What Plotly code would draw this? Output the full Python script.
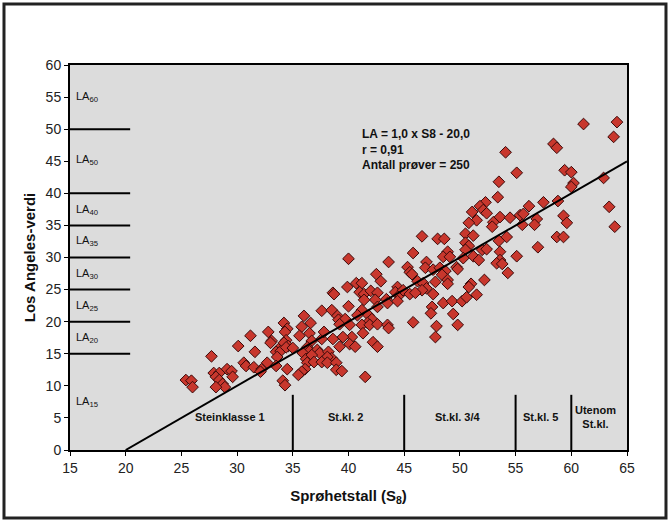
import plotly.graph_objects as go

# Sprøhetstall (S8) og Los Angeles-verdi, lest av figuren
s8 = [
    38.6, 36.0, 37.6, 38.5, 34.2, 34.5, 34.3, 36.6, 35.8, 32.8, 31.2, 33.1, 33.0, 34.4, 34.2, 34.6,
    35.6, 36.5, 36.7, 37.6, 38.6, 37.8, 30.1, 31.6, 33.7, 33.5, 33.9, 34.4, 35.0, 36.3, 36.5, 35.9,
    37.2, 37.4, 38.2, 38.5, 38.1, 33.6, 27.7, 30.6, 30.8, 31.5, 32.2, 32.1, 32.7, 33.5, 34.5, 36.2,
    36.3, 36.1, 35.8, 35.5, 36.7, 36.9, 37.6, 38.1, 38.9, 38.9, 27.9, 28.4, 28.1, 29.1, 29.5, 29.6,
    28.4, 28.7, 28.9, 28.1, 34.1, 34.3, 25.4, 25.9, 26.0, 39.4, 41.5,
    46.6, 40.0, 43.6, 45.8, 47.0, 45.3, 45.5, 45.7, 46.9, 42.5, 42.9, 46.2, 46.7, 47.0, 46.6, 47.5,
    47.4, 47.9, 47.8, 45.8, 40.7, 41.2, 39.9, 38.7, 41.0, 41.4, 42.0, 42.6, 44.4, 44.2, 44.6, 44.9,
    45.5, 46.0, 43.4, 43.5, 44.4, 42.4, 42.6, 41.4, 41.2, 40.0, 40.8, 41.8, 42.1, 41.7, 39.0, 39.1,
    39.7, 39.2, 40.1, 40.3, 39.5, 41.2, 41.9, 42.6, 43.5, 43.6, 41.3, 42.2, 42.6, 40.1, 40.6, 39.2,
    49.8, 49.4,
    54.1, 55.1, 53.5, 53.4, 52.3, 51.8, 52.1, 52.4, 51.1, 51.5, 50.8, 53.0, 52.9, 53.6, 54.5, 55.4,
    55.7, 55.6, 56.2, 57.5, 58.8, 56.9, 56.7, 58.7, 48.0, 48.6, 50.5, 51.2, 54.2, 53.5, 50.5, 50.8,
    50.5, 52.0, 52.4, 53.6, 57.0, 48.9, 48.5, 49.1, 50.3, 51.2, 51.7, 53.6, 53.3, 53.8, 55.1, 47.6,
    48.2, 48.7, 48.4, 49.7, 49.8, 47.8, 48.9, 48.9, 51.0, 50.8, 52.2, 54.3, 51.5, 47.6, 48.5, 49.3,
    50.2, 50.6,
    61.1, 64.1, 63.8, 58.4, 58.7, 59.4, 60.0, 60.2, 60.0, 62.9, 59.3, 59.6, 59.3, 63.4, 63.9,
]
la = [
    24.5, 20.9, 21.7, 21.8, 19.8, 18.9, 18.4, 19.8, 19.2, 18.4, 17.8, 17.0, 16.7, 17.1, 16.7, 16.2,
    17.8, 18.2, 17.0, 17.3, 17.3, 18.4, 16.2, 15.3, 15.7, 15.3, 15.4, 16.0, 15.9, 16.0, 15.4, 15.1,
    15.6, 15.1, 15.3, 14.3, 14.5, 14.5, 14.6, 13.6, 13.1, 12.9, 12.6, 12.2, 13.6, 13.1, 12.6, 14.2,
    13.6, 12.6, 12.2, 11.7, 14.8, 13.7, 13.7, 13.6, 13.6, 12.5, 12.0, 12.0, 11.4, 12.6, 12.3, 11.4,
    10.9, 10.3, 9.8, 9.8, 10.8, 10.1, 10.9, 10.8, 9.8, 12.3, 11.4,
    33.3, 29.8, 29.3, 30.7, 29.3, 28.5, 27.7, 27.4, 28.4, 27.4, 26.3, 26.3, 26.0, 25.2, 24.9, 22.3,
    21.3, 19.3, 17.6, 19.9, 26.0, 26.0, 25.4, 24.3, 24.6, 24.3, 24.8, 24.5, 25.4, 24.6, 24.2, 24.9,
    24.3, 24.5, 23.5, 22.9, 23.2, 23.4, 22.3, 23.4, 21.8, 22.4, 21.0, 21.0, 20.4, 19.8, 20.9, 20.3,
    20.4, 19.6, 19.5, 17.6, 17.6, 19.5, 19.5, 19.6, 19.5, 19.0, 18.2, 16.8, 16.1, 16.5, 16.1, 16.1,
    19.5, 21.2,
    46.4, 43.2, 41.8, 39.4, 38.6, 38.0, 37.4, 36.9, 37.1, 35.8, 35.4, 35.5, 34.8, 36.3, 36.2, 36.6,
    36.8, 35.1, 38.0, 38.6, 38.8, 36.0, 35.1, 33.2, 32.9, 32.9, 33.7, 33.4, 33.2, 32.6, 32.3, 31.8,
    31.2, 31.2, 31.3, 30.9, 31.6, 30.9, 30.1, 30.1, 29.9, 30.2, 29.6, 29.6, 29.1, 29.0, 30.2, 28.1,
    28.4, 27.9, 27.3, 28.5, 28.2, 26.2, 26.5, 25.9, 25.9, 25.4, 26.5, 27.6, 24.2, 24.3, 22.9, 23.2,
    23.2, 23.8,
    50.8, 51.1, 48.8, 47.7, 47.1, 43.6, 43.3, 41.6, 41.0, 42.4, 36.5, 35.4, 33.2, 37.9, 34.8,
]

# Regresjonslinje LA = 1,0 x S8 - 20,0
stigning = 1.0
konstant = -20.0
linje_x = [20, 65]
linje_y = [stigning * v + konstant for v in linje_x]

# LA-klasser (grenser og etiketter)
la_grenser = [50, 40, 35, 30, 25, 20, 15]
la_tekster = ['LA<sub>60</sub>', 'LA<sub>50</sub>', 'LA<sub>40</sub>', 'LA<sub>35</sub>',
              'LA<sub>30</sub>', 'LA<sub>25</sub>', 'LA<sub>20</sub>', 'LA<sub>15</sub>']
la_tekst_y = [55, 45.2, 37.4, 32.5, 27.5, 22.5, 17.5, 7.5]

# Steinklasser
klasse_grenser = [35, 45, 55, 60]
klasse_tekster = ['Steinklasse 1', 'St.kl. 2', 'St.kl. 3/4', 'St.kl. 5', 'Utenom<br>St.kl.']
klasse_tekst_x = [29.4, 39.7, 49.8, 57.2, 62.2]

fig = go.Figure()

fig.add_trace(go.Scatter(
    x=s8, y=la, mode='markers',
    marker=dict(symbol='diamond', size=9, color='#c8372d',
                line=dict(width=1, color='#3a0a0a')),
    showlegend=False))

fig.add_trace(go.Scatter(
    x=linje_x, y=linje_y, mode='lines',
    line=dict(color='black', width=2), showlegend=False))

for g in la_grenser:
    fig.add_shape(type='line', x0=15, x1=20.4, y0=g, y1=g,
                  line=dict(color='black', width=2))
for t, yy in zip(la_tekster, la_tekst_y):
    fig.add_annotation(x=15.4, y=yy, text=t, showarrow=False, xanchor='left',
                       font=dict(family='Arial', size=11, color='#111'))

for g in klasse_grenser:
    fig.add_shape(type='line', x0=g, x1=g, y0=0, y1=8.6,
                  line=dict(color='black', width=2))
for t, xx in zip(klasse_tekster, klasse_tekst_x):
    fig.add_annotation(x=xx, y=5.1, text='<b>' + t + '</b>', showarrow=False,
                       font=dict(family='Arial', size=11, color='#111'))

fig.add_annotation(
    x=41.0, y=46.9, xanchor='left', showarrow=False, align='left',
    text='<b>LA = 1,0 x S8 - 20,0<br>r = 0,91<br>Antall prøver = 250</b>',
    font=dict(family='Arial', size=12, color='#111'))

# ytre ramme rundt hele figuren
fig.add_shape(type='rect', xref='paper', yref='paper',
              x0=-0.1185, x1=1.070, y0=-0.1766, y1=1.1584,
              line=dict(color='#222', width=3))

fig.update_xaxes(range=[15, 65], dtick=5, showgrid=False, zeroline=False,
                 showline=True, linecolor='black', linewidth=2, mirror=True,
                 ticks='outside', ticklen=4, tickcolor='black',
                 tickfont=dict(family='Arial', size=14, color='#222'),
                 title=dict(text='<b>Sprøhetstall (S<sub>8</sub>)</b>', standoff=16,
                            font=dict(family='Arial', size=15, color='#111')))
fig.update_yaxes(range=[0, 60], dtick=5, showgrid=False, zeroline=False,
                 showline=True, linecolor='black', linewidth=2, mirror=True,
                 ticks='outside', ticklen=4, tickcolor='black',
                 tickfont=dict(family='Arial', size=14, color='#222'),
                 title=dict(text='<b>Los Angeles-verdi</b>', standoff=6,
                            font=dict(family='Arial', size=15, color='#111')))

fig.update_layout(
    width=671, height=523,
    margin=dict(l=70, r=44, t=65, b=73),
    plot_bgcolor='#dcdcdc', paper_bgcolor='white')

fig.write_html('out.html', config={'displayModeBar': False},
               post_script="document.body.style.margin='0';")
